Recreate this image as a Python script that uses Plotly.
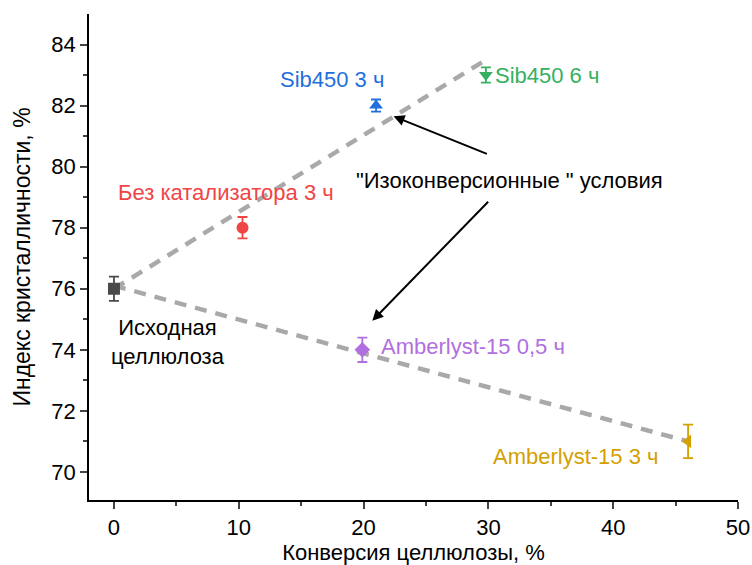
import plotly.graph_objects as go

# Data
labels = ["Исходная целлюлоза", "Без катализатора 3 ч", "Sib450 3 ч", "Sib450 6 ч",
          "Amberlyst-15 0,5 ч", "Amberlyst-15 3 ч"]
conv = [0.0, 10.3, 21.0, 29.8, 19.9, 46.0]
cryst = [76.0, 78.0, 82.0, 83.0, 74.0, 71.0]
err = [0.4, 0.35, 0.2, 0.25, 0.4, 0.55]
colors = ["#4a4a4a", "#f04545", "#1f6fe0", "#35b060", "#b070e0", "#d4a000"]
symbols = ["square", "circle", "triangle-up", "triangle-down", "diamond", "triangle-left"]

trend_up_x = [0.0, 30.0]
trend_up_y = [76.0, 83.55]
trend_down_x = [0.0, 46.0]
trend_down_y = [76.1, 71.0]

font = "Liberation Sans, Arial, sans-serif"
FS = 22

fig = go.Figure()
dash = dict(color="#a9a9a9", width=4.5, dash="12px,9px")
fig.add_trace(go.Scatter(x=trend_up_x, y=trend_up_y, mode="lines", line=dash, hoverinfo="skip"))
fig.add_trace(go.Scatter(x=trend_down_x, y=trend_down_y, mode="lines", line=dash, hoverinfo="skip"))

for i in range(len(labels)):
    fig.add_trace(go.Scatter(
        x=[conv[i]], y=[cryst[i]], mode="markers",
        marker=dict(symbol=symbols[i], size=12, color=colors[i]),
        error_y=dict(type="data", array=[err[i]], color=colors[i], thickness=1.8, width=5),
        name=labels[i]))

ann = []
def txt(x, y, t, c, xa="left"):
    ann.append(dict(x=x, y=y, xref="x", yref="y", text=t, showarrow=False,
                    xanchor=xa, yanchor="middle", font=dict(family=font, size=FS, color=c)))

txt(17.5, 82.85, "Sib450 3 ч", colors[2], "center")
txt(30.4, 83.0, "Sib450 6 ч", colors[3])
txt(0.2, 79.15, "Без катализатора 3 ч", colors[1])
txt(19.2, 79.55, "\"Изоконверсионные \" условия", "#000000")
txt(-0.4, 74.25, "Исходная<br>целлюлоза", "#000000")
txt(21.2, 74.1, "Amberlyst-15 0,5 ч", colors[4])
txt(30.2, 70.5, "Amberlyst-15 3 ч", colors[5])

for (x, y, ax, ay) in [(22.4, 81.65, 30.0, 80.4), (20.7, 74.95, 30.1, 78.9)]:
    ann.append(dict(x=x, y=y, ax=ax, ay=ay, xref="x", yref="y", axref="x", ayref="y",
                    text="", showarrow=True, arrowhead=2, arrowsize=1.1, arrowwidth=2,
                    arrowcolor="#000000"))

fig.update_layout(
    width=752, height=565,
    margin=dict(l=89, r=14, t=14, b=65),
    plot_bgcolor="white", paper_bgcolor="white",
    showlegend=False,
    annotations=ann,
    font=dict(family=font, size=FS, color="#000000"),
    xaxis=dict(range=[-2, 50], tickvals=[0, 10, 20, 30, 40, 50], ticks="outside",
               ticklen=7, tickwidth=1.5, showline=True, linecolor="#000000", linewidth=1.5,
               showgrid=False, zeroline=False, tickfont=dict(size=FS), automargin=False,
               minor=dict(tickvals=[5, 15, 25, 35, 45], ticks="outside", ticklen=4, tickwidth=1.5),
               title=dict(text="Конверсия целлюлозы, %", font=dict(size=FS), standoff=10)),
    yaxis=dict(range=[69.08, 85], tickvals=[70, 72, 74, 76, 78, 80, 82, 84], ticks="outside",
               ticklen=7, tickwidth=1.5, showline=True, linecolor="#000000", linewidth=1.5,
               showgrid=False, zeroline=False, tickfont=dict(size=FS), automargin=False,
               minor=dict(tickvals=[71, 73, 75, 77, 79, 81, 83], ticks="outside", ticklen=4, tickwidth=1.5),
               title=dict(text="Индекс кристалличности, %", font=dict(size=23), standoff=14)),
)

fig.write_html("out.html")
